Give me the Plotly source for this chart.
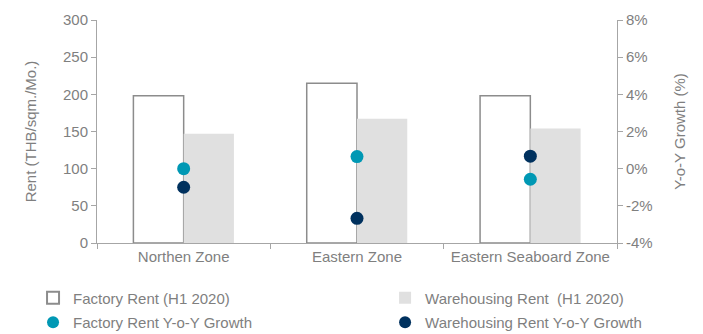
import plotly.graph_objects as go

zones = ["Northen Zone", "Eastern Zone", "Eastern Seaboard Zone"]
factory_rent = [198, 215, 198]
warehouse_rent = [147, 167, 154]
factory_growth = [0.0, 0.65, -0.57]
warehouse_growth = [-1.0, -2.67, 0.67]
growth_ticks = [-4, -2, 0, 2, 4, 6, 8]
growth_ticklabels = ["-4%", "-2%", "0%", "2%", "4%", "6%", "8%"]

GRAY = "#7f7f7f"
AXIS = "#a6a6a6"
FONT = "Liberation Sans"
FS = 15

fig = go.Figure()
fig.add_trace(go.Bar(x=zones, y=factory_rent, name="Factory Rent (H1 2020)",
                     marker=dict(color="white", line=dict(color="#8c8c8c", width=1.5)),
                     legend="legend"))
fig.add_trace(go.Bar(x=zones, y=warehouse_rent, name="Warehousing Rent  (H1 2020)",
                     marker=dict(color="#e0e0e0", line=dict(width=0)),
                     legend="legend2"))
fig.add_trace(go.Scatter(x=zones, y=factory_growth, name="Factory Rent Y-o-Y Growth",
                         mode="markers", yaxis="y2",
                         marker=dict(color="#0098b4", size=13), legend="legend3"))
fig.add_trace(go.Scatter(x=zones, y=warehouse_growth, name="Warehousing Rent Y-o-Y Growth",
                         mode="markers", yaxis="y2",
                         marker=dict(color="#00315e", size=13), legend="legend4"))

lc = dict(orientation="h", xanchor="left", yanchor="middle",
          font=dict(family=FONT, size=FS, color=GRAY), itemwidth=30,
          itemsizing="constant", bgcolor="rgba(0,0,0,0)")

x1, x2 = -0.123, 0.554
r1, r2 = -0.247, -0.357

fig.update_layout(
    width=703, height=334,
    margin=dict(l=97, r=86, t=20, b=91, autoexpand=False),
    paper_bgcolor="white", plot_bgcolor="white",
    font=dict(family=FONT, size=FS, color=GRAY),
    barmode="group", bargap=0.42, bargroupgap=0,
    showlegend=True,
    legend=dict(x=x1, y=r1, **lc),
    legend2=dict(x=x2, y=r1, **lc),
    legend3=dict(x=x1, y=r2, **lc),
    legend4=dict(x=x2, y=r2, **lc),
    xaxis=dict(showline=True, linecolor=AXIS, linewidth=1, ticks="outside",
               tickson="boundaries", ticklen=5, tickcolor=AXIS,
               tickfont=dict(size=FS, color=GRAY), showgrid=False),
    yaxis=dict(range=[0, 300], dtick=50, showline=True, linecolor=AXIS, linewidth=1,
               ticks="outside", ticklen=5, tickcolor=AXIS, showgrid=False, zeroline=False,
               tickfont=dict(size=FS, color=GRAY),
               title=dict(text="Rent (THB/sqm./Mo.)", font=dict(size=FS, color=GRAY), standoff=22)),
    yaxis2=dict(range=[-4, 8], tickvals=growth_ticks, ticktext=growth_ticklabels,
                overlaying="y", side="right",
                showline=True, linecolor=AXIS, linewidth=1, ticks="outside", ticklen=5,
                tickcolor=AXIS, showgrid=False, zeroline=False,
                tickfont=dict(size=FS, color=GRAY),
                title=dict(text="Y-o-Y Growth (%)", font=dict(size=FS, color=GRAY), standoff=22)),
)

fig.write_html("out.html")
